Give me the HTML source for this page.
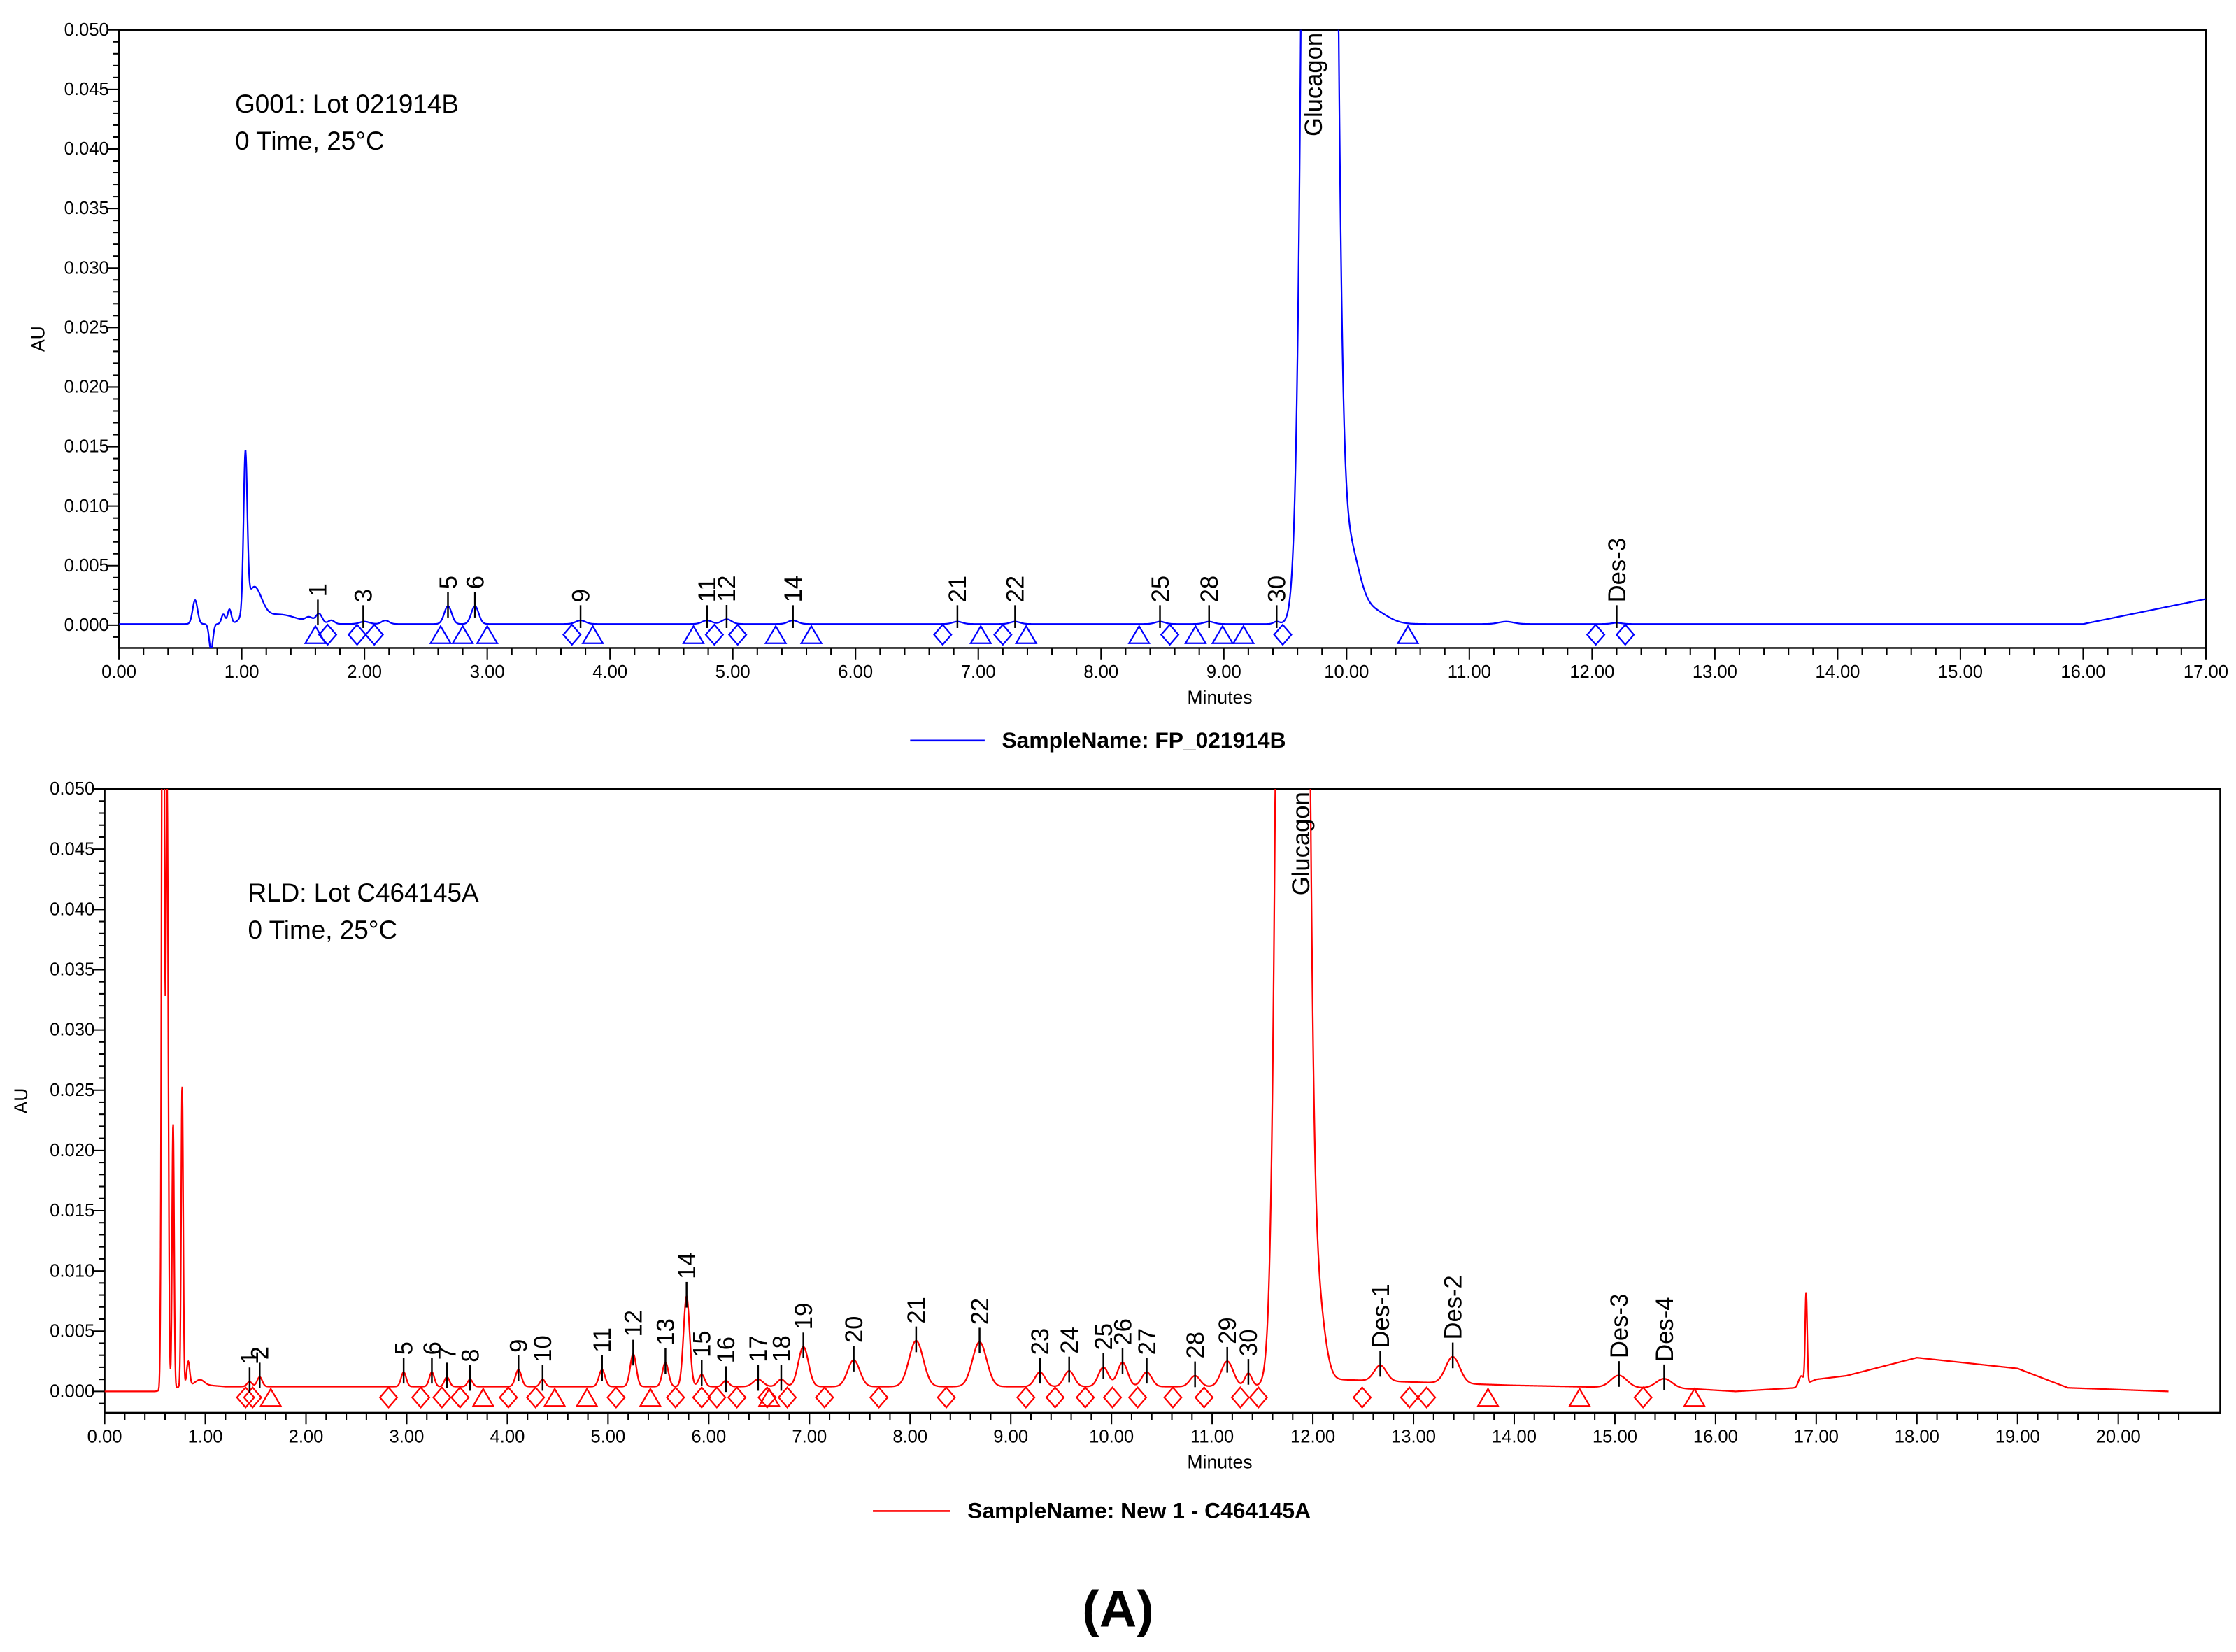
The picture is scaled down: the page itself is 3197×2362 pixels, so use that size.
<!DOCTYPE html>
<html><head><meta charset="utf-8"><style>
html,body{margin:0;padding:0;background:#fff}
svg{display:block}
text{font-family:"Liberation Sans",Arial,sans-serif}
</style></head><body>
<svg id="fig" width="3197" height="2362" viewBox="0 0 1560 1160" preserveAspectRatio="none" xmlns="http://www.w3.org/2000/svg">
<defs>
<clipPath id="clipTop"><rect x="83" y="21" width="1456" height="434"/></clipPath>
<clipPath id="clipBot"><rect x="73" y="554" width="1476" height="438"/></clipPath>
</defs>
<g id="top"></g>
<g id="bot"></g>
<text x="780" y="1142" text-anchor="middle" font-family="Liberation Serif,serif" font-weight="bold" font-size="36">(A)</text>
</svg>
<script>
// ---------- TOP CHART DATA (G001) ----------
const topPeakTimes   = [0.62, 0.75, 0.85, 0.90, 1.03, 1.10, 1.30, 1.55, 1.63, 1.73, 2.00, 2.17, 2.68, 2.90, 3.76, 4.79, 4.95, 5.49, 6.83, 7.30, 8.48, 8.88, 9.43, 9.78, 10.02, 10.20, 11.30, 12.20];
const topPeakHeights = [0.0020, -0.0022, 0.0008, 0.0012, 0.0130, 0.0028, 0.0008, 0.0004, 0.0008, 0.0003, 0.0002, 0.0003, 0.0015, 0.0015, 0.0003, 0.0003, 0.0004, 0.0003, 0.0002, 0.0002, 0.0002, 0.0002, 0.0002, 0.40, 0.0060, 0.0012, 0.0002, 0.0001];
const topPeakWidths  = [0.02, 0.015, 0.015, 0.015, 0.015, 0.06, 0.15, 0.03, 0.025, 0.025, 0.04, 0.03, 0.03, 0.03, 0.04, 0.04, 0.04, 0.04, 0.04, 0.04, 0.04, 0.04, 0.025, 0.075, 0.08, 0.12, 0.06, 0.04];
const topBaseTimes = [0, 16.0, 17.0];
const topBaseVals  = [0.0001, 0.0001, 0.0022];
const topLabelNames = ["1","3","5","6","9","11","12","14","21","22","25","28","30","Des-3"];
const topLabelTimes = [1.62, 1.99, 2.68, 2.90, 3.76, 4.79, 4.95, 5.49, 6.83, 7.30, 8.48, 8.88, 9.43, 12.20];
const topTriangles = [1.60,2.62,2.80,3.00,3.86,4.68,5.35,5.64,7.02,7.39,8.31,8.77,8.99,9.16,10.50];
const topDiamonds  = [1.70,1.94,2.08,3.69,4.85,5.04,6.71,7.20,8.56,9.48,12.03,12.27];
const topXTicks = ["0.00","1.00","2.00","3.00","4.00","5.00","6.00","7.00","8.00","9.00","10.00","11.00","12.00","13.00","14.00","15.00","16.00","17.00"];
const topYTicks = ["0.000","0.005","0.010","0.015","0.020","0.025","0.030","0.035","0.040","0.045","0.050"];

// ---------- BOTTOM CHART DATA (RLD) ----------
const botPeakTimes   = [0.58, 0.62, 0.68, 0.77, 0.83, 0.95, 1.44, 1.54, 2.97, 3.25, 3.40, 3.63, 4.11, 4.35, 4.94, 5.25, 5.57, 5.78, 5.93, 6.17, 6.49, 6.72, 6.94, 7.44, 8.06, 8.69, 9.29, 9.58, 9.92, 10.11, 10.35, 10.83, 11.15, 11.36, 11.80, 12.05, 12.67, 13.39, 15.04, 15.49, 16.85, 16.90];
const botPeakHeights = [0.09, 0.05, 0.0220, 0.0250, 0.002, 0.0004, 0.0004, 0.0008, 0.0012, 0.0012, 0.0008, 0.0006, 0.0014, 0.0006, 0.0014, 0.0027, 0.0020, 0.0075, 0.0010, 0.0005, 0.0006, 0.0006, 0.0033, 0.0022, 0.0038, 0.0037, 0.0012, 0.0013, 0.0016, 0.0020, 0.0012, 0.0009, 0.0021, 0.0011, 0.40, 0.006, 0.0013, 0.0022, 0.0010, 0.0008, 0.0008, 0.0075];
const botPeakWidths  = [0.012, 0.012, 0.010, 0.010, 0.015, 0.04, 0.025, 0.025, 0.025, 0.025, 0.025, 0.025, 0.03, 0.025, 0.03, 0.03, 0.03, 0.03, 0.03, 0.03, 0.05, 0.04, 0.05, 0.06, 0.07, 0.07, 0.05, 0.05, 0.05, 0.05, 0.05, 0.05, 0.06, 0.035, 0.085, 0.07, 0.06, 0.07, 0.08, 0.08, 0.025, 0.010];
const botBaseTimes = [0, 0.5, 0.9, 1.2, 11.4, 12.2, 14.0, 15.8, 16.2, 16.8, 17.0, 17.3, 18.0, 19.0, 19.5, 20.5];
const botBaseVals  = [0.0, 0.0, 0.0006, 0.0004, 0.0004, 0.0010, 0.0005, 0.0002, 0.0000, 0.0003, 0.0010, 0.0013, 0.0028, 0.0019, 0.0003, 0.0000];
const botLabelNames = ["1","2","5","6","7","8","9","10","11","12","13","14","15","16","17","18","19","20","21","22","23","24","25","26","27","28","29","30","Des-1","Des-2","Des-3","Des-4"];
const botLabelTimes = [1.44,1.54,2.97,3.25,3.40,3.63,4.11,4.35,4.94,5.25,5.57,5.78,5.93,6.17,6.49,6.72,6.94,7.44,8.06,8.69,9.29,9.58,9.92,10.11,10.35,10.83,11.15,11.36,12.67,13.39,15.04,15.49];
const botTriangles = [1.65,3.76,4.47,4.79,5.42,6.60,13.74,14.65,15.79];
const botDiamonds  = [1.40,1.47,2.82,3.14,3.35,3.53,4.01,4.28,5.08,5.67,5.93,6.08,6.28,6.58,6.78,7.15,7.69,8.36,9.15,9.44,9.74,10.01,10.26,10.61,10.92,11.28,11.46,12.49,12.96,13.13,15.28];
const botXTicks = ["0.00","1.00","2.00","3.00","4.00","5.00","6.00","7.00","8.00","9.00","10.00","11.00","12.00","13.00","14.00","15.00","16.00","17.00","18.00","19.00","20.00"];
const botYTicks = ["0.000","0.005","0.010","0.015","0.020","0.025","0.030","0.035","0.040","0.045","0.050"];

const NS = "http://www.w3.org/2000/svg";
function mk(parent, tag, attrs){ const e=document.createElementNS(NS,tag); for(const k in attrs) e.setAttribute(k,attrs[k]); parent.appendChild(e); return e; }
function interp(ts, vs, t){ if(t<=ts[0]) return vs[0]; for(let i=1;i<ts.length;i++){ if(t<=ts[i]){ const f=(t-ts[i-1])/(ts[i]-ts[i-1]); return vs[i-1]+f*(vs[i]-vs[i-1]); } } return vs[vs.length-1]; }
function signal(t, P){ let v=interp(P.bt,P.bv,t); for(let i=0;i<P.pt.length;i++){ const d=(t-P.pt[i])/P.pw[i]; v+=P.ph[i]*Math.exp(-0.5*d*d); } return v; }

function drawChart(gid, C){
  const g=document.getElementById(gid);
  const X=t=>C.x0+(t-C.tmin)*(C.x1-C.x0)/(C.tmax-C.tmin);
  const Y=v=>C.yz-(v)*(C.yz-C.yt)/0.05;
  const frame=mk(g,'rect',{x:C.left,y:C.yt,width:C.right-C.left,height:C.bottom-C.yt,fill:'none',stroke:'#000','stroke-width':1.2});
  
  
  const yg=mk(g,'g',{});
  
  
  for(let k=-2;k<=50;k++){ const v=k*0.001; const y=Y(v); if(y>C.bottom) continue; const maj=(k%5===0); mk(yg,'line',{x1:C.left-(maj?8:4),x2:C.left,y1:y,y2:y,stroke:'#000','stroke-width':1}); }
  C.yticks.forEach((lab,i)=>{ const tx=mk(yg,'text',{x:C.left-7,y:Y(parseFloat(lab))+4,'text-anchor':'end','font-size':12.5,fill:'#000'}); tx.textContent=lab;
    
     });
  const au=mk(yg,'text',{x:0,y:0,'font-size':13,'text-anchor':'middle',transform:`translate(${C.auX},${(C.yt+C.bottom)/2}) rotate(-90)`}); au.textContent='AU';
  
  
  const xg=mk(g,'g',{});
  
  
  for(let k=0;k<=Math.round(C.tmax*5);k++){ const t=k*0.2; const x=X(t); if(x>C.right+0.5) break; const maj=(k%5===0); mk(xg,'line',{x1:x,x2:x,y1:C.bottom,y2:C.bottom+(maj?8:5),stroke:'#000','stroke-width':1}); }
  C.xticks.forEach(lab=>{ const tx=mk(xg,'text',{x:X(parseFloat(lab)),y:C.bottom+21,'text-anchor':'middle','font-size':12.5}); tx.textContent=lab;
    
     });
  const mn=mk(xg,'text',{x:(C.left+C.right)/2+40,y:C.bottom+39,'text-anchor':'middle','font-size':13}); mn.textContent='Minutes';
  
  
  const P={pt:C.pt,ph:C.ph,pw:C.pw,bt:C.bt,bv:C.bv};
  let d=''; for(let t=C.tmin;t<=C.tmax+0.001;t+=0.003){ const y=Math.max(Y(signal(t,P)),C.yt-5); d+=(d?'L':'M')+X(t).toFixed(2)+','+y.toFixed(2); }
  const tr=mk(g,'path',{d:d,fill:'none',stroke:C.color,'stroke-width':1.1,'clip-path':`url(#${C.clip})`});
  
  
  const mg=mk(g,'g',{fill:'none',stroke:C.color,'stroke-width':1.1});
  
  
  const my=Y(C.markerV);
  C.tri.forEach(t=>{ const x=X(t); const p=mk(mg,'polygon',{points:`${x-7},${my+6} ${x+7},${my+6} ${x},${my-6}`});
    
     });
  C.dia.forEach(t=>{ const x=X(t); const p=mk(mg,'polygon',{points:`${x-6},${my} ${x},${my-7} ${x+6},${my} ${x},${my+7}`});
    
     });
  C.lnames.forEach((nm,i)=>{ const t=C.ltimes[i]; const x=X(t); const top=Y(signal(t,P));
    const yA=Math.min(top+8,C.yz+2), yB=Math.min(top-10,C.yz-14);
    const ln=mk(g,'line',{x1:x,x2:x,y1:yA,y2:yB,stroke:'#000','stroke-width':1.2});
    
    
    const tx=mk(g,'text',{x:0,y:0,'font-size':17,transform:`translate(${x+6},${yB-2}) rotate(-90)`}); tx.textContent=nm;
    
     });
  const gl=mk(g,'text',{x:0,y:0,'font-size':17,'text-anchor':'end',transform:`translate(${X(C.glucT)+6},${C.yt+2}) rotate(-90)`}); gl.textContent='Glucagon';
  
  
  const an=mk(g,'text',{x:C.annX,y:C.annY,'font-size':18}); an.textContent=C.ann1;
  
  
  const an2=mk(g,'text',{x:C.annX,y:C.annY+26,'font-size':18}); an2.textContent='0 Time, 25°C';
  
  
  const lg=mk(g,'g',{});
  
  
  mk(lg,'line',{x1:C.legX1,x2:C.legX2,y1:C.legY-5,y2:C.legY-5,stroke:C.color,'stroke-width':1.3});
  const lt=mk(lg,'text',{x:C.legX2+12,y:C.legY,'font-size':15.5,'font-weight':'bold'}); lt.textContent=C.legend;
}

drawChart('top',{x0:83,x1:1539,tmin:0,tmax:17,left:83,right:1539,yt:21,yz:439,bottom:455,
  yticks:topYTicks,xticks:topXTicks,auX:31,pt:topPeakTimes,ph:topPeakHeights,pw:topPeakWidths,bt:topBaseTimes,bv:topBaseVals,
  color:'#0000ff',clip:'clipTop',markerV:-0.0008,tri:topTriangles,dia:topDiamonds,lnames:topLabelNames,ltimes:topLabelTimes,glucT:9.73,
  ann1:'G001: Lot 021914B',annX:164,annY:79,legX1:635,legX2:687,legY:525,legend:'SampleName: FP_021914B'});
drawChart('bot',{x0:73,x1:1513,tmin:0,tmax:20.5,left:73,right:1549,yt:554,yz:977,bottom:992,
  yticks:botYTicks,xticks:botXTicks,auX:19,pt:botPeakTimes,ph:botPeakHeights,pw:botPeakWidths,bt:botBaseTimes,bv:botBaseVals,
  color:'#ff0000',clip:'clipBot',markerV:-0.0005,tri:botTriangles,dia:botDiamonds,lnames:botLabelNames,ltimes:botLabelTimes,glucT:11.88,
  ann1:'RLD: Lot C464145A',annX:173,annY:633,legX1:609,legX2:663,legY:1066,legend:'SampleName: New 1 - C464145A'});
</script>
</body></html>
